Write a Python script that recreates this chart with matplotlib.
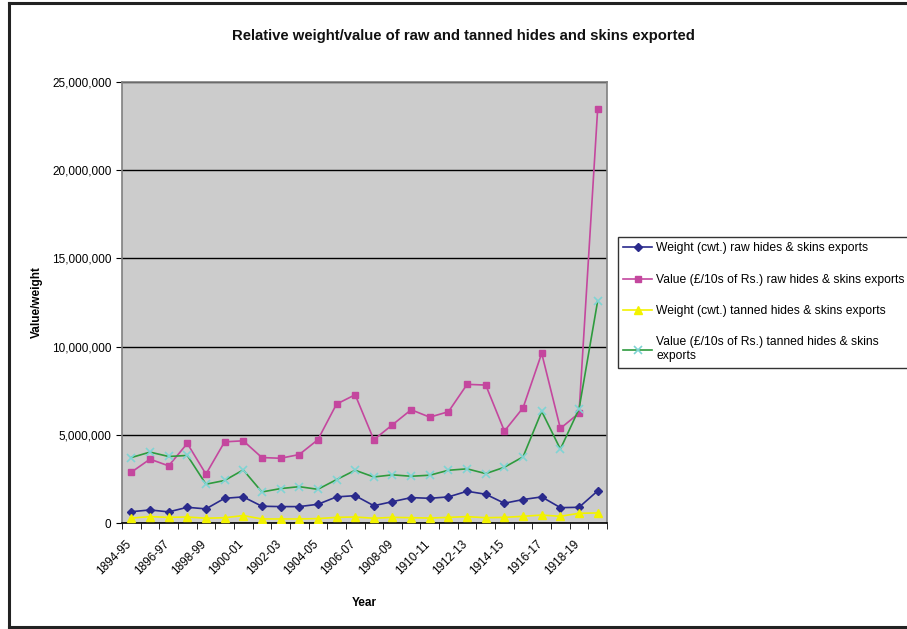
import numpy as np
import matplotlib
matplotlib.use("Agg")
import matplotlib.pyplot as plt
from matplotlib.ticker import FuncFormatter, FixedLocator
from matplotlib.lines import Line2D

plt.rcParams['font.family'] = ['Liberation Sans', 'DejaVu Sans']

# Années (26 exercices, 1894-95 à 1919-20)
annees = [f"{a}-{str(a + 1)[-2:]}" for a in range(1894, 1920)]

# Valeurs (unités brutes)
poids_brut = [640000, 740000, 630000, 890000, 800000, 1400000, 1480000, 950000, 930000,
              930000, 1060000, 1480000, 1550000, 980000, 1210000, 1440000, 1400000,
              1480000, 1800000, 1630000, 1120000, 1330000, 1480000, 870000, 890000, 1820000]
valeur_brut = [2880000, 3620000, 3240000, 4510000, 2770000, 4600000, 4660000, 3710000,
               3670000, 3880000, 4720000, 6740000, 7270000, 4720000, 5570000, 6420000,
               6000000, 6310000, 7860000, 7820000, 5210000, 6530000, 9620000, 5360000,
               6230000, 23480000]
poids_tanne = [280000, 360000, 320000, 340000, 270000, 300000, 420000, 230000, 230000,
               230000, 250000, 320000, 340000, 270000, 320000, 300000, 280000, 320000,
               360000, 300000, 320000, 380000, 450000, 380000, 550000, 570000]
valeur_tanne = [3710000, 4020000, 3770000, 3830000, 2200000, 2410000, 3010000, 1760000,
                1950000, 2060000, 1910000, 2460000, 2990000, 2610000, 2730000, 2650000,
                2710000, 2990000, 3070000, 2800000, 3160000, 3750000, 6330000, 4190000,
                6460000, 12590000]

noms_series = [
    "Weight (cwt.) raw hides & skins exports",
    "Value (£/10s of Rs.) raw hides & skins exports",
    "Weight (cwt.) tanned hides & skins exports",
    "Value (£/10s of Rs.) tanned hides & skins\nexports",
]

fig = plt.figure(figsize=(9.07, 6.29), dpi=100)
fig.set_facecolor('white')
ax = fig.add_axes([122 / 907, 1 - 523 / 629, (607 - 122) / 907, (523 - 82) / 629])
ax.set_facecolor('#CCCCCC')

x = np.arange(len(annees))

ax.plot(x, poids_brut, color='#2A2A8C', marker='D', markersize=4.5,
        linewidth=1.2, label=noms_series[0], zorder=4)
ax.plot(x, valeur_brut, color='#C4479E', marker='s', markersize=5,
        linewidth=1.2, label=noms_series[1], zorder=3)
ax.plot(x, poids_tanne, color='#F2F200', marker='^', markersize=6,
        linewidth=1.2, label=noms_series[2], zorder=4)
ax.plot(x, valeur_tanne, color='#2E9B3E', marker='x', markersize=5.5,
        markeredgecolor='#7FD4D4', markeredgewidth=1.2,
        linewidth=1.2, label=noms_series[3], zorder=3)

ax.set_xlim(-0.5, len(annees) - 0.5)
ax.set_ylim(0, 25000000)
ax.set_yticks(np.arange(0, 25000001, 5000000))
ax.yaxis.set_major_formatter(FuncFormatter(lambda v, p: f"{int(v):,}"))
ax.grid(axis='y', color='black', linewidth=1)
ax.set_axisbelow(True)

# Libellés un an sur deux (légèrement décalés à gauche), traits entre les catégories
ax.set_xticks(x[::2] - 0.3)
ax.set_xticklabels(annees[::2][:13], rotation=45, ha='right',
                   rotation_mode='anchor', fontsize=8.5)
ax.xaxis.set_minor_locator(FixedLocator(np.arange(-0.5, len(annees), 1)))
ax.tick_params(axis='x', which='major', length=0, pad=11)
ax.tick_params(axis='x', which='minor', length=4, direction='out', color='black')
ax.tick_params(axis='y', length=4, direction='out', color='black', labelsize=8.5)

for cote in ['top', 'right', 'left', 'bottom']:
    ax.spines[cote].set_color('#808080')
    ax.spines[cote].set_linewidth(1.2)
ax.spines['bottom'].set_color('black')

ax.set_xlabel('Year', fontsize=8.5, fontweight='bold', labelpad=14)
fig.text(37 / 907, 1 - 302 / 629, 'Value/weight', rotation=90,
         ha='center', va='center', fontsize=8.5, fontweight='bold')

fig.text(463 / 907, 1 - 36 / 629,
         'Relative weight/value of raw and tanned hides and skins exported',
         ha='center', va='center', fontsize=10.7, fontweight='bold', color='#111111')

leg = fig.legend(loc='upper left', bbox_to_anchor=(618 / 907, 1 - 237 / 629),
                 fontsize=8.7, frameon=True, fancybox=False, edgecolor='black',
                 handlelength=2.4, labelspacing=1.6, borderpad=0.45,
                 handletextpad=0.3, borderaxespad=0)
leg.get_frame().set_linewidth(1)

# Cadre extérieur (gauche, haut, bas)
for (xs, ys) in [([9, 9], [3, 627]), ([9, 907], [3, 3]), ([9, 907], [627, 627])]:
    fig.add_artist(Line2D([v / 907 for v in xs], [1 - v / 629 for v in ys],
                          color='#222222', linewidth=2.2))

fig.savefig('out.png', dpi=100)
